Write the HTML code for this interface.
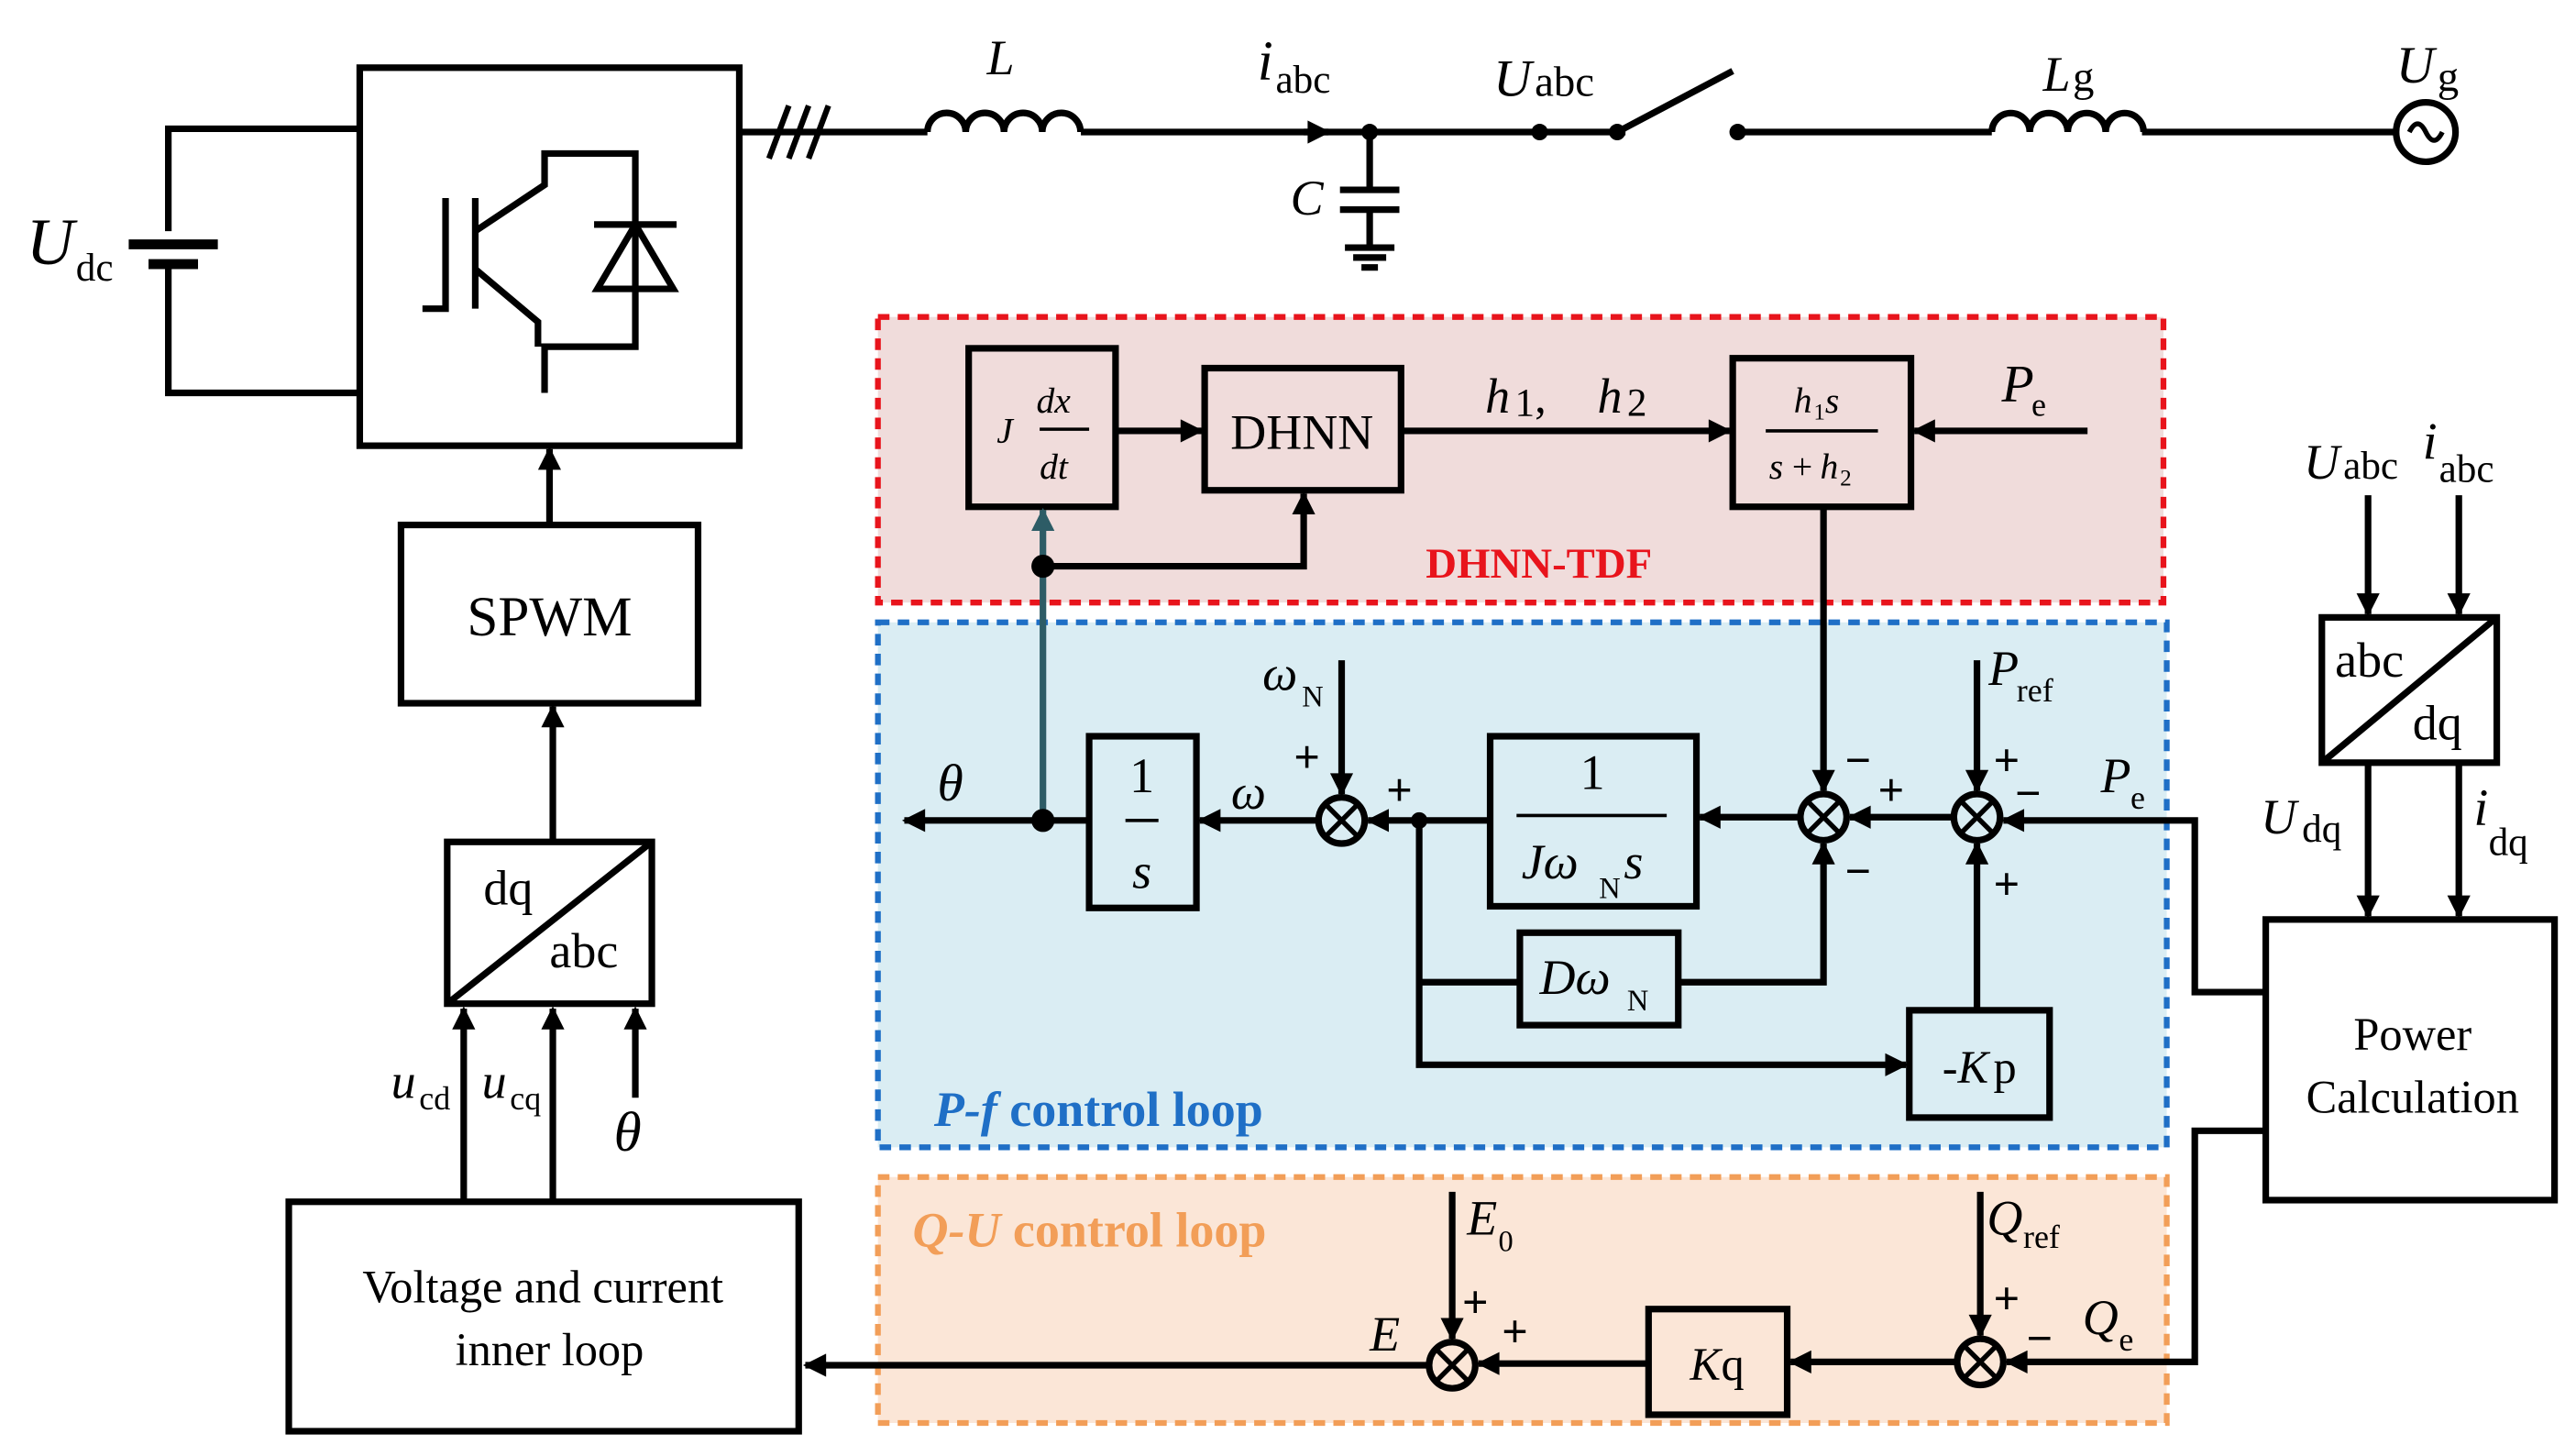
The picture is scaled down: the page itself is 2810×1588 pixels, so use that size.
<!DOCTYPE html>
<html><head><meta charset="utf-8"><style>
html,body{margin:0;padding:0;background:#fff}
svg{display:block}
text{font-family:"Liberation Serif",serif;fill:#000}
</style></head><body>
<svg width="2810" height="1588" viewBox="0 0 1561 882" preserveAspectRatio="none" xmlns="http://www.w3.org/2000/svg">
<defs>
<marker id="ah" viewBox="0 0 10 10" refX="9" refY="5" markerWidth="20" markerHeight="14" orient="auto" markerUnits="userSpaceOnUse"><path d="M0,0 L10,5 L0,10 z" fill="#000"/></marker>
<marker id="at" viewBox="0 0 10 10" refX="9" refY="5" markerWidth="20" markerHeight="14" orient="auto" markerUnits="userSpaceOnUse"><path d="M0,0 L10,5 L0,10 z" fill="#2d5c66"/></marker>
</defs>
<rect x="532" y="192" width="779" height="173" fill="#f0dcdb" stroke="#e8141c" stroke-width="3.5" stroke-dasharray="7,5"/>
<rect x="532" y="377" width="781" height="318" fill="#daedf3" stroke="#1f6fc6" stroke-width="3.5" stroke-dasharray="7,5"/>
<rect x="532" y="713" width="781" height="149" fill="#fbe6d7" stroke="#f29e58" stroke-width="3.5" stroke-dasharray="7,5"/>

<g stroke="#000" stroke-width="4" fill="none">
<rect x="218" y="41" width="230" height="229"/>
<path d="M218,78 H102 V140 M102,160 V238 H218"/>
<path d="M78,148 H132 M90,160 H120" stroke-width="6"/>
<path d="M270,120 V187 H256 M288,120 V187 M288,140 L330,112 V93 H385 V210 H330 V238 M288,163 L326,195 V210"/>
<path d="M360,136 H410 M385,136 L362,175 H408 Z"/>
<path d="M448,80 H562 M655,80 H985 M1053,80 H1207 M1298,80 H1452"/>
<path d="M466,96 L478,64 M478,96 L490,64 M490,96 L502,64" stroke-width="3.5"/>
<path d="M562,80 a11.6,11.6 0 0 1 23.2,0 a11.6,11.6 0 0 1 23.2,0 a11.6,11.6 0 0 1 23.2,0 a11.6,11.6 0 0 1 23.2,0"/>
<path d="M1207,80 a11.5,11.5 0 0 1 23,0 a11.5,11.5 0 0 1 23,0 a11.5,11.5 0 0 1 23,0 a11.5,11.5 0 0 1 23,0"/>
<path d="M980,80 L1050,43"/>
<path d="M830,80 V115 M812,115 H848 M812,127 H848 M830,127 V150 M815,150 H845 M820,156 H840 M825,162 H835" />
<circle cx="1470" cy="80" r="18"/>
<path d="M1460,80 q5,-10 10,0 q5,10 10,0" stroke-width="3"/>
<rect x="243" y="318" width="180" height="108"/>
<path d="M333,318 V272" marker-end="url(#ah)"/>
<rect x="271" y="510" width="124" height="98"/>
<path d="M271,608 L395,510"/>
<path d="M335,510 V428" marker-end="url(#ah)"/>
<path d="M281,728 V611" marker-end="url(#ah)"/>
<path d="M335,728 V611" marker-end="url(#ah)"/>
<path d="M385,665 V611" marker-end="url(#ah)"/>
<rect x="175" y="728" width="309" height="139"/>
<rect x="587" y="211" width="89" height="96"/>
<rect x="730" y="223" width="119" height="74"/>
<rect x="1050" y="217" width="108" height="90"/>
<path d="M676,261 H728" marker-end="url(#ah)"/>
<path d="M849,261 H1048" marker-end="url(#ah)"/>
<path d="M1265,261 H1160" marker-end="url(#ah)"/>
<path d="M632,343 H790 V299" marker-end="url(#ah)"/>
<path d="M1105,307 V479" marker-end="url(#ah)"/>
<rect x="660" y="446" width="65" height="104"/>
<rect x="903" y="446" width="125" height="103"/>
<rect x="921" y="565" width="96" height="56"/>
<rect x="1157" y="612" width="85" height="65"/>
<circle cx="813" cy="497" r="14"/><circle cx="1105" cy="495" r="14"/><circle cx="1198" cy="495" r="14"/>
<path d="M803,487 L823,507 M823,487 L803,507 M1095,485 L1115,505 M1115,485 L1095,505 M1188,485 L1208,505 M1208,485 L1188,505" stroke-width="3"/>
<path d="M813,400 V481" marker-end="url(#ah)"/>
<path d="M1198,400 V479" marker-end="url(#ah)"/>
<path d="M1184,495 H1121" marker-end="url(#ah)"/>
<path d="M1091,495 H1030" marker-end="url(#ah)"/>
<path d="M903,497 H829" marker-end="url(#ah)"/>
<path d="M799,497 H727" marker-end="url(#ah)"/>
<path d="M660,497 H548" marker-end="url(#ah)"/>
<path d="M860,497 V645 H1155" marker-end="url(#ah)"/>
<path d="M860,595 H921"/>
<path d="M1017,595 H1105 V511" marker-end="url(#ah)"/>
<path d="M1198,612 V511" marker-end="url(#ah)"/>
<path d="M1372,601 H1330 V497 H1214" marker-end="url(#ah)"/>
<rect x="1373" y="557" width="175" height="170"/>
<rect x="1407" y="374" width="106" height="88"/>
<path d="M1407,462 L1513,374"/>
<path d="M1435,300 V372" marker-end="url(#ah)"/>
<path d="M1490,300 V372" marker-end="url(#ah)"/>
<path d="M1435,462 V555" marker-end="url(#ah)"/>
<path d="M1490,462 V555" marker-end="url(#ah)"/>
<path d="M1372,685 H1330 V825 H1216" marker-end="url(#ah)"/>
<circle cx="1200" cy="825" r="14"/><circle cx="880" cy="827" r="14"/>
<path d="M1190,815 L1210,835 M1210,815 L1190,835 M870,817 L890,837 M890,817 L870,837" stroke-width="3"/>
<path d="M1200,722 V809" marker-end="url(#ah)"/>
<path d="M880,722 V811" marker-end="url(#ah)"/>
<rect x="999" y="793" width="84" height="64"/>
<path d="M1186,825 H1085" marker-end="url(#ah)"/>
<path d="M999,826 H896" marker-end="url(#ah)"/>
<path d="M866,827 H488" marker-end="url(#ah)"/>
<path d="M630,260 H660 M919,494 H1010 M682,497 H702 M1070,261 H1138" stroke-width="2"/>
</g>
<path d="M790,80 H805" stroke="#000" stroke-width="4" marker-end="url(#ah)"/>
<path d="M632,497 V309" stroke="#2d5c66" stroke-width="4" marker-end="url(#at)"/>
<g fill="#000"><circle cx="830" cy="80" r="5"/><circle cx="933" cy="80" r="5"/><circle cx="980" cy="80" r="5"/><circle cx="1053" cy="80" r="5"/><circle cx="632" cy="497" r="7"/><circle cx="632" cy="343" r="7"/><circle cx="860" cy="497" r="5"/></g>

<text x="16" y="160" font-size="40" font-style="italic">U</text><text x="46" y="170" font-size="24">dc</text>
<text x="598" y="45" font-size="30" font-style="italic">L</text>
<text x="762" y="48" font-size="34" font-style="italic">i</text><text x="773" y="56" font-size="24">abc</text>
<text x="905" y="58" font-size="32" font-style="italic">U</text><text x="930" y="58" font-size="26">abc</text>
<text x="782" y="130" font-size="30" font-style="italic">C</text>
<text x="1238" y="55" font-size="30" font-style="italic">L</text><text x="1256" y="55" font-size="26">g</text>
<text x="1452" y="50" font-size="32" font-style="italic">U</text><text x="1477" y="55" font-size="26">g</text>
<text x="333" y="385" font-size="34" text-anchor="middle">SPWM</text>
<text x="293" y="548" font-size="30">dq</text><text x="333" y="586" font-size="30">abc</text>
<text x="237" y="665" font-size="30" font-style="italic">u</text><text x="254" y="672" font-size="20">cd</text>
<text x="292" y="665" font-size="30" font-style="italic">u</text><text x="309" y="672" font-size="20">cq</text>
<text x="372" y="697" font-size="34" font-style="italic">θ</text>
<text x="329" y="789" font-size="28" text-anchor="middle">Voltage and current</text>
<text x="333" y="827" font-size="28" text-anchor="middle">inner loop</text>
<text x="604" y="268" font-size="22" font-style="italic">J</text>
<text x="628" y="250" font-size="22" font-style="italic">dx</text><text x="630" y="290" font-size="22" font-style="italic">dt</text>
<text x="789" y="272" font-size="30" text-anchor="middle">DHNN</text>
<text x="900" y="250" font-size="30" font-style="italic">h</text><text x="918" y="252" font-size="24">1</text><text x="930" y="250" font-size="28">,</text>
<text x="968" y="250" font-size="30" font-style="italic">h</text><text x="986" y="252" font-size="24">2</text>
<text x="1087" y="250" font-size="22" font-style="italic">h</text><text x="1099" y="254" font-size="14">1</text><text x="1106" y="250" font-size="22" font-style="italic">s</text>
<text x="1072" y="290" font-size="22" font-style="italic">s</text><text x="1086" y="290" font-size="22">+</text><text x="1103" y="290" font-size="22" font-style="italic">h</text><text x="1115" y="294" font-size="14">2</text>
<text x="1213" y="243" font-size="32" font-style="italic">P</text><text x="1231" y="252" font-size="20">e</text>
<text x="864" y="350" font-size="26" font-weight="bold" style="fill:#e8141c">DHNN-TDF</text>
<text x="568" y="485" font-size="32" font-style="italic">θ</text>
<text x="746" y="490" font-size="30" font-style="italic">ω</text>
<text x="765" y="418" font-size="30" font-style="italic">ω</text><text x="789" y="428" font-size="18">N</text>
<text x="692" y="480" font-size="30" text-anchor="middle">1</text><text x="692" y="538" font-size="30" text-anchor="middle" font-style="italic">s</text>
<text x="965" y="478" font-size="30" text-anchor="middle">1</text>
<text x="922" y="532" font-size="30" font-style="italic">Jω</text><text x="969" y="544" font-size="18">N</text><text x="984" y="532" font-size="30" font-style="italic">s</text>
<text x="933" y="602" font-size="30" font-style="italic">Dω</text><text x="986" y="612" font-size="18">N</text>
<text x="1177" y="656" font-size="28" font-style="italic">-K</text><text x="1208" y="656" font-size="28">p</text>
<text x="1205" y="415" font-size="30" font-style="italic">P</text><text x="1222" y="425" font-size="20">ref</text>
<text x="1273" y="480" font-size="30" font-style="italic">P</text><text x="1291" y="490" font-size="20">e</text>
<g font-size="28" font-weight="bold"><text x="784" y="468">+</text><text x="840" y="488">+</text><text x="1118" y="470">−</text><text x="1138" y="488">+</text><text x="1118" y="537">−</text><text x="1208" y="470">+</text><text x="1221" y="490">−</text><text x="1208" y="545">+</text>
<text x="886" y="798">+</text><text x="910" y="816">+</text><text x="1208" y="796">+</text><text x="1228" y="820">−</text></g>
<text x="566" y="682" font-size="30" font-weight="bold" style="fill:#1f6fc6"><tspan font-style="italic">P-f</tspan> control loop</text>
<text x="553" y="755" font-size="30" font-weight="bold" style="fill:#f29e58"><tspan font-style="italic">Q-U</tspan> control loop</text>
<text x="889" y="748" font-size="30" font-style="italic">E</text><text x="908" y="758" font-size="18">0</text>
<text x="830" y="818" font-size="30" font-style="italic">E</text>
<text x="1204" y="748" font-size="30" font-style="italic">Q</text><text x="1226" y="756" font-size="20">ref</text>
<text x="1262" y="808" font-size="30" font-style="italic">Q</text><text x="1284" y="818" font-size="20">e</text>
<text x="1024" y="836" font-size="28" font-style="italic">K</text><text x="1043" y="836" font-size="28">q</text>
<text x="1396" y="290" font-size="30" font-style="italic">U</text><text x="1420" y="290" font-size="24">abc</text>
<text x="1468" y="278" font-size="32" font-style="italic">i</text><text x="1478" y="292" font-size="24">abc</text>
<text x="1415" y="410" font-size="30">abc</text><text x="1462" y="448" font-size="30">dq</text>
<text x="1370" y="505" font-size="30" font-style="italic">U</text><text x="1395" y="510" font-size="24">dq</text>
<text x="1499" y="500" font-size="32" font-style="italic">i</text><text x="1508" y="518" font-size="24">dq</text>
<text x="1462" y="636" font-size="28" text-anchor="middle">Power</text>
<text x="1462" y="674" font-size="28" text-anchor="middle">Calculation</text>
</svg>
</body></html>
